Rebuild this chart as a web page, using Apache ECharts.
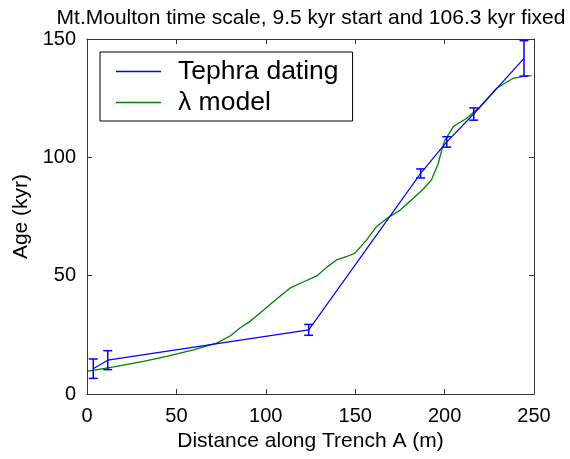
<!DOCTYPE html>
<html><head><meta charset="utf-8">
<script src="https://cdn.jsdelivr.net/npm/echarts@6/dist/echarts.min.js"></script>
<style>html,body{margin:0;padding:0;background:#fff}#c{width:570px;height:459px}</style>
</head><body><div id="c"></div>
<script>
var titleText = 'Mt.Moulton time scale, 9.5 kyr start and 106.3 kyr fixed';
var xName = 'Distance along Trench A (m)';
var yName = 'Age (kyr)';
var seriesNames = ['Tephra dating', '\u03bb model'];
var tephraX = [3.5, 11.6, 124, 186.6, 201.2, 216.3, 244.4];
var tephraY = [10.7, 14.3, 27.1, 93.2, 106.5, 118.3, 141.8];
var tephraErr = [4.1, 4.0, 2.3, 1.9, 2.2, 2.6, 7.5];
var modelX = [0, 15, 31.5, 44.6, 60, 72.5, 80, 85.6, 91.2, 96.8, 105, 113.5, 120, 128.5, 134, 139.7, 145, 149.9, 156.4, 162, 168.5, 175, 182.5, 188, 192.7, 196.5, 198.4, 200.2, 204.9, 212.4, 219.8, 229.1, 238.4, 244, 248.7];
var modelY = [9.6, 11.5, 13.8, 15.9, 18.8, 21.5, 24.5, 27.9, 30.7, 34.2, 39.5, 44.7, 47, 49.9, 53.5, 56.7, 58, 59.5, 65.1, 70.8, 74.6, 77.6, 82.7, 86.5, 90.5, 97.5, 103.1, 107.3, 113, 116.5, 121.4, 129.2, 133.4, 134.2, 134.5];
var xTicks = [0, 50, 100, 150, 200, 250];
var yTicks = [0, 50, 100, 150];

var tephra = tephraX.map(function(x, i){ return [x, tephraY[i]]; });
var model = modelX.map(function(x, i){ return [x, modelY[i]]; });
var errData = tephraX.map(function(x, i){ return [x, tephraY[i] - tephraErr[i], tephraY[i] + tephraErr[i]]; });

var FONT = 'Liberation Sans, Arial, sans-serif';
var blue = '#0000ff', green = '#008000', axisCol = '#333333';

var chart = echarts.init(document.getElementById('c'), null, {renderer: 'canvas'});
function mkAxis(type, pos, show){
  var isX = type === 'x';
  var ticks = isX ? xTicks : yTicks;
  return {
    type: 'value', position: pos,
    min: ticks[0], max: ticks[ticks.length - 1], interval: ticks[1] - ticks[0],
    axisLine: {show: true, onZero: false, lineStyle: {color: axisCol, width: 1}},
    axisTick: {show: true, inside: true, length: 5, lineStyle: {color: axisCol}},
    axisLabel: {show: show, color: '#000', fontSize: 20, fontFamily: FONT, margin: isX ? 12 : 11},
    splitLine: {show: false},
    name: show ? (isX ? xName : yName) : '',
    nameLocation: 'middle',
    nameGap: isX ? 28 : 54,
    nameTextStyle: {color: '#000', fontSize: 21, fontFamily: FONT}
  };
}
chart.setOption({
  animation: false,
  backgroundColor: '#fff',
  title: {text: titleText, left: 306, textAlign: 'center', top: 3,
    textStyle: {fontSize: 21, fontWeight: 'normal', color: '#000', fontFamily: FONT}},
  grid: {left: 87, right: 36, top: 39, bottom: 65},
  xAxis: [mkAxis('x', 'bottom', true), mkAxis('x', 'top', false)],
  yAxis: [mkAxis('y', 'left', true), mkAxis('y', 'right', false)],
  legend: {
    data: seriesNames.map(function(n){ return {name: n, icon: 'rect'}; }),
    orient: 'vertical', left: 100, top: 52,
    itemWidth: 45, itemHeight: 1.5, itemGap: 4,
    padding: [6, 14, 5, 16],
    borderColor: '#000', borderWidth: 1, backgroundColor: '#fff',
    textStyle: {fontSize: 26.5, color: '#000', fontFamily: FONT, padding: [0, 0, 0, 12]}
  },
  series: [
    {name: seriesNames[0], type: 'line', data: tephra, showSymbol: false, symbol: 'none',
      lineStyle: {color: blue, width: 1.2}, itemStyle: {color: blue}, z: 3},
    {name: seriesNames[1], type: 'line', data: model, showSymbol: false, symbol: 'none',
      lineStyle: {color: green, width: 1.3}, itemStyle: {color: green}, z: 2},
    {name: 'err', type: 'custom', data: errData, z: 4,
      renderItem: function(params, api){
        var x = api.value(0);
        var lo = api.coord([x, api.value(1)]);
        var hi = api.coord([x, api.value(2)]);
        var half = 4.5;
        var st = {stroke: blue, lineWidth: 1.5};
        return {type: 'group', children: [
          {type: 'line', shape: {x1: lo[0], y1: lo[1], x2: hi[0], y2: hi[1]}, style: st},
          {type: 'line', shape: {x1: lo[0]-half, y1: lo[1], x2: lo[0]+half, y2: lo[1]}, style: st},
          {type: 'line', shape: {x1: hi[0]-half, y1: hi[1], x2: hi[0]+half, y2: hi[1]}, style: st}
        ]};
      }}
  ]
});
</script></body></html>
